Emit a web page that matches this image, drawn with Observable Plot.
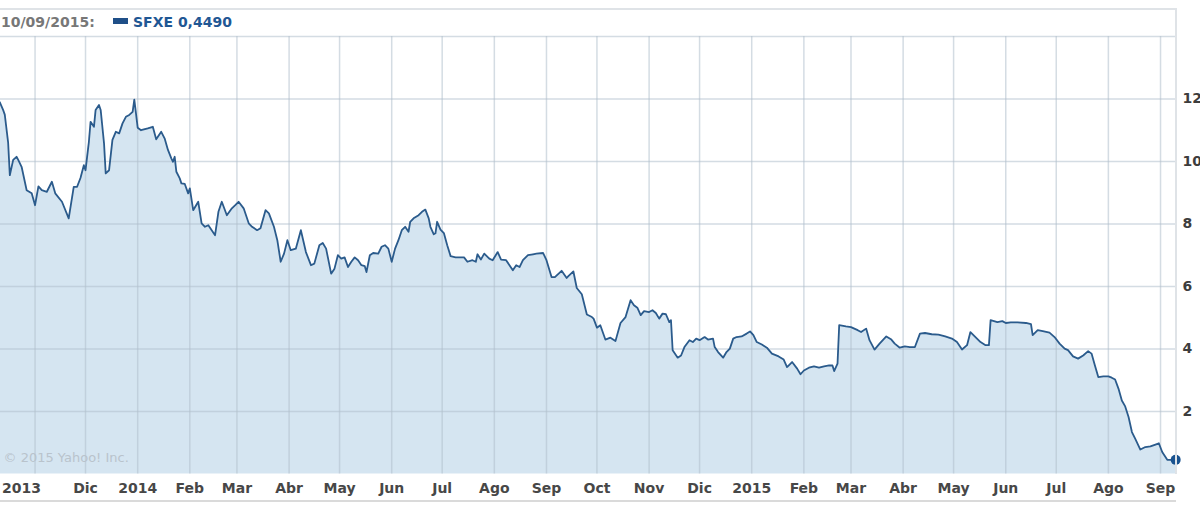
<!DOCTYPE html>
<html><head><meta charset="utf-8">
<script src="https://cdn.jsdelivr.net/npm/d3@7"></script>
<script src="https://cdn.jsdelivr.net/npm/@observablehq/plot@0.6"></script>
<style>
html,body{margin:0;padding:0;background:#fff;overflow:hidden;}
#wrap{position:relative;width:1200px;height:506px;font-family:"DejaVu Sans",Verdana,sans-serif;}
#chart{position:absolute;left:0;top:0;}
#frame{position:absolute;left:0;top:8px;width:1177px;height:466px;box-sizing:border-box;border-top:2px solid #dfe3e7;border-right:2px solid #dfe3e7;pointer-events:none;}
#bottomline{position:absolute;left:0;top:500px;width:1176px;height:2px;background:#dadada;}
.lg{position:absolute;top:14px;font-weight:bold;font-size:14px;line-height:16px;white-space:nowrap;}
#mk{position:absolute;left:113px;top:18px;width:15px;height:6px;background:#1f4f88;}
</style></head>
<body><div id="wrap">
<div id="chart"></div>
<div id="frame"></div>
<div id="bottomline"></div>
<span class="lg" id="lgDate" style="left:1px;color:#777"></span>
<span id="mk"></span>
<span class="lg" id="lgSeries" style="left:133px;color:#1f5794"></span>
</div>
<script>
// ---- data ----
const ticker = "SFXE";
const lastDateLabel = "10/09/2015";
const copyright = "© 2015 Yahoo! Inc.";

const dates = [
"2013-10-11","2013-10-13","2013-10-14","2013-10-16","2013-10-17","2013-10-19","2013-10-21","2013-10-22","2013-10-24","2013-10-27","2013-10-30",
"2013-11-01","2013-11-03","2013-11-05","2013-11-08","2013-11-11","2013-11-13","2013-11-17","2013-11-21","2013-11-24","2013-11-26","2013-11-28","2013-11-30",
"2013-12-01","2013-12-03","2013-12-04","2013-12-06","2013-12-07","2013-12-09","2013-12-10","2013-12-12","2013-12-13","2013-12-15","2013-12-17","2013-12-19","2013-12-21","2013-12-23","2013-12-25","2013-12-27","2013-12-29","2013-12-30",
"2014-01-01","2014-01-03","2014-01-07","2014-01-10","2014-01-12","2014-01-15","2014-01-17","2014-01-19","2014-01-21","2014-01-22","2014-01-23","2014-01-24","2014-01-26","2014-01-27","2014-01-29","2014-01-31",
"2014-02-01","2014-02-03","2014-02-06","2014-02-08","2014-02-10","2014-02-12","2014-02-14","2014-02-16","2014-02-18","2014-02-20","2014-02-23","2014-02-26","2014-02-28",
"2014-03-02","2014-03-05","2014-03-08","2014-03-10","2014-03-13","2014-03-15","2014-03-18","2014-03-20","2014-03-23","2014-03-25","2014-03-27","2014-03-29","2014-03-31",
"2014-04-02","2014-04-05","2014-04-08","2014-04-11","2014-04-14","2014-04-16","2014-04-19","2014-04-21","2014-04-23","2014-04-26","2014-04-28","2014-04-30",
"2014-05-02","2014-05-04","2014-05-06","2014-05-08","2014-05-10","2014-05-12","2014-05-14","2014-05-16","2014-05-17","2014-05-19","2014-05-21","2014-05-24","2014-05-26","2014-05-28","2014-05-30",
"2014-06-01","2014-06-03","2014-06-05","2014-06-07","2014-06-09","2014-06-11","2014-06-12","2014-06-14","2014-06-17","2014-06-19","2014-06-21","2014-06-23","2014-06-24","2014-06-26","2014-06-27","2014-06-28","2014-06-30",
"2014-07-02","2014-07-04","2014-07-06","2014-07-09","2014-07-14","2014-07-16","2014-07-19","2014-07-21","2014-07-22","2014-07-24","2014-07-26","2014-07-29","2014-07-31",
"2014-08-03","2014-08-05","2014-08-08","2014-08-10","2014-08-12","2014-08-14","2014-08-16","2014-08-18","2014-08-21","2014-08-24","2014-08-26","2014-08-30",
"2014-09-01","2014-09-04","2014-09-06","2014-09-10","2014-09-13","2014-09-14","2014-09-17","2014-09-19","2014-09-22","2014-09-25","2014-09-28","2014-09-29",
"2014-10-01","2014-10-03","2014-10-06","2014-10-09","2014-10-12","2014-10-15","2014-10-18","2014-10-21","2014-10-23","2014-10-25","2014-10-27","2014-10-29",
"2014-11-01","2014-11-03","2014-11-05","2014-11-07","2014-11-09","2014-11-11","2014-11-13","2014-11-14","2014-11-15","2014-11-18","2014-11-20","2014-11-22","2014-11-25","2014-11-27","2014-11-29",
"2014-12-01","2014-12-04","2014-12-06","2014-12-09","2014-12-10","2014-12-12","2014-12-15","2014-12-17","2014-12-19","2014-12-21","2014-12-23","2014-12-26","2014-12-29","2014-12-31",
"2015-01-02","2015-01-04","2015-01-07","2015-01-10","2015-01-13","2015-01-17","2015-01-20","2015-01-22","2015-01-25","2015-01-28","2015-01-30",
"2015-02-01","2015-02-04","2015-02-07","2015-02-10","2015-02-13","2015-02-16","2015-02-18","2015-02-19","2015-02-21","2015-02-22","2015-02-26",
"2015-03-01","2015-03-05","2015-03-07","2015-03-10","2015-03-12","2015-03-15","2015-03-18","2015-03-22","2015-03-25","2015-03-27","2015-03-30",
"2015-04-02","2015-04-05","2015-04-08","2015-04-11","2015-04-14","2015-04-18","2015-04-22","2015-04-26","2015-04-30",
"2015-05-03","2015-05-06","2015-05-09","2015-05-11","2015-05-14","2015-05-17","2015-05-20","2015-05-22","2015-05-23","2015-05-25","2015-05-27","2015-05-30",
"2015-06-01","2015-06-04","2015-06-08","2015-06-13","2015-06-16","2015-06-17","2015-06-20","2015-06-23","2015-06-27","2015-06-30",
"2015-07-03","2015-07-06","2015-07-08","2015-07-11","2015-07-14","2015-07-17","2015-07-20","2015-07-22","2015-07-24","2015-07-26","2015-07-29",
"2015-08-01","2015-08-03","2015-08-05","2015-08-07","2015-08-09","2015-08-11","2015-08-13","2015-08-15","2015-08-17","2015-08-20","2015-08-23","2015-08-26","2015-08-29","2015-08-31",
"2015-09-02","2015-09-05","2015-09-10"
];
const prices = [
11.90,11.65,11.50,10.60,9.56,10.05,10.15,10.05,9.83,9.08,8.98,
8.60,9.20,9.08,9.03,9.35,8.98,8.71,8.18,9.19,9.19,9.47,9.88,
9.72,10.63,11.27,11.11,11.65,11.81,11.65,10.58,9.62,9.72,10.69,10.95,10.90,11.22,11.43,11.49,11.59,11.98,
11.08,11.00,11.06,11.11,10.71,10.95,10.74,10.37,10.10,9.99,10.15,9.67,9.46,9.30,9.28,8.98,
9.14,8.44,8.71,8.02,7.91,7.96,7.80,7.64,8.39,8.71,8.28,8.50,8.60,
8.71,8.50,8.02,7.91,7.80,7.86,8.44,8.34,7.91,7.48,6.79,7.05,7.48,
7.16,7.21,7.80,7.10,6.68,6.73,7.32,7.39,7.21,6.41,6.57,7.00,
6.89,6.93,6.62,6.79,6.93,6.84,6.68,6.65,6.46,7.00,7.07,7.05,7.27,7.32,7.21,
6.79,7.21,7.48,7.80,7.91,7.75,8.07,8.18,8.28,8.39,8.46,8.18,7.91,7.67,7.70,8.07,7.82,
7.71,7.32,6.97,6.93,6.93,6.79,6.84,6.79,7.03,6.86,7.05,6.89,6.84,
7.10,6.86,6.84,6.68,6.52,6.68,6.62,6.84,7.00,7.03,7.05,7.07,
6.84,6.30,6.30,6.50,6.27,6.33,6.48,5.95,5.75,5.10,5.02,4.97,
4.68,4.76,4.30,4.36,4.25,4.83,5.02,5.56,5.40,5.32,5.08,5.21,
5.18,5.24,5.15,4.97,5.13,5.11,4.86,4.92,3.96,3.72,3.79,4.06,4.28,4.22,4.33,
4.28,4.38,4.30,4.33,4.06,3.90,3.72,3.90,4.01,4.33,4.38,4.40,4.49,4.56,
4.44,4.22,4.14,4.04,3.85,3.76,3.66,3.42,3.58,3.37,3.19,
3.31,3.40,3.44,3.40,3.44,3.47,3.47,3.29,3.53,4.76,4.72,
4.70,4.60,4.54,4.65,4.28,3.98,4.17,4.40,4.30,4.17,4.04,
4.08,4.06,4.06,4.49,4.51,4.47,4.46,4.40,4.33,
4.22,3.98,4.12,4.54,4.38,4.22,4.12,4.12,4.92,4.89,4.86,4.89,
4.83,4.85,4.85,4.83,4.79,4.44,4.60,4.57,4.52,4.38,
4.17,4.01,3.96,3.76,3.69,3.79,3.93,3.85,3.47,3.10,3.12,
3.12,3.08,3.02,2.73,2.35,2.16,1.82,1.34,1.12,0.78,0.86,0.88,0.94,0.98,
0.70,0.45,0.449
];

const tickDates = ["2013-11-01","2013-12-01","2014-01-01","2014-02-01","2014-03-01","2014-04-01","2014-05-01","2014-06-01","2014-07-01","2014-08-01","2014-09-01","2014-10-01","2014-11-01","2014-12-01","2015-01-01","2015-02-01","2015-03-01","2015-04-01","2015-05-01","2015-06-01","2015-07-01","2015-08-01","2015-09-01"];
const tickLabels = ["2013","Dic","2014","Feb","Mar","Abr","May","Jun","Jul","Ago","Sep","Oct","Nov","Dic","2015","Feb","Mar","Abr","May","Jun","Jul","Ago","Sep"];
const yTicks = [2, 4, 6, 8, 10, 12];
const yGrid = [2, 4, 6, 8, 10, 12, 14];
const xDomain = ["2013-10-11T11:00:00Z", "2015-09-09T21:36:00Z"];
const yDomain = [0, 14];

// ---- build ----
const parse = s => new Date(s + "T00:00:00Z");
const data = dates.map((d, i) => ({date: parse(d), price: prices[i]}));
if (dates.length !== prices.length) console.error("length mismatch", dates.length, prices.length);
const tickObjs = tickDates.map(parse);
const labelOf = new Map(tickObjs.map((d, i) => [+d, tickLabels[i]]));
const last = data[data.length - 1];

document.getElementById("lgDate").textContent = lastDateLabel + ":";
document.getElementById("lgSeries").textContent = ticker + " " + last.price.toFixed(4).replace(".", ",");

const chart = Plot.plot({
  width: 1200, height: 506,
  marginLeft: 0, marginRight: 25, marginTop: 36, marginBottom: 32.6,
  style: {fontFamily: "'DejaVu Sans', Verdana, sans-serif", fontSize: "14px", background: "transparent", overflow: "visible"},
  x: {type: "utc", domain: xDomain.map(s => new Date(s))},
  y: {domain: yDomain},
  marks: [
    Plot.areaY(data, {x: "date", y: "price", fill: "#d5e5f1"}),
    Plot.ruleX(tickObjs, {stroke: "#b0bfcc", strokeOpacity: 0.55, strokeWidth: 1.5}),
    Plot.ruleY(yGrid, {stroke: "#b0bfcc", strokeOpacity: 0.55, strokeWidth: 1.5}),
    Plot.lineY(data, {x: "date", y: "price", stroke: "#2b5b8c", strokeWidth: 1.8}),
    Plot.dot([last], {x: "date", y: "price", r: 5, fill: "#1a5390"}),
    Plot.text([copyright], {text: d => d, frameAnchor: "bottom-left", dx: 3, dy: -12, textAnchor: "start", fill: "#b9c3cc", fontSize: 13}),
    Plot.axisX(tickObjs.slice(1), {tickSize: 0, tickPadding: 9, tickFormat: d => labelOf.get(+d), fontWeight: "bold", fill: "#474747", label: null}),
    Plot.axisX(tickObjs.slice(0, 1), {tickSize: 0, tickPadding: 9, tickFormat: d => labelOf.get(+d), textAnchor: "start", dx: -33, fontWeight: "bold", fill: "#474747", label: null}),
    Plot.axisY(yTicks, {anchor: "right", tickSize: 0, tickPadding: 7, fontWeight: "bold", fill: "#3d3d3d", label: null})
  ]
});
document.getElementById("chart").appendChild(chart);
</script>
</body></html>
